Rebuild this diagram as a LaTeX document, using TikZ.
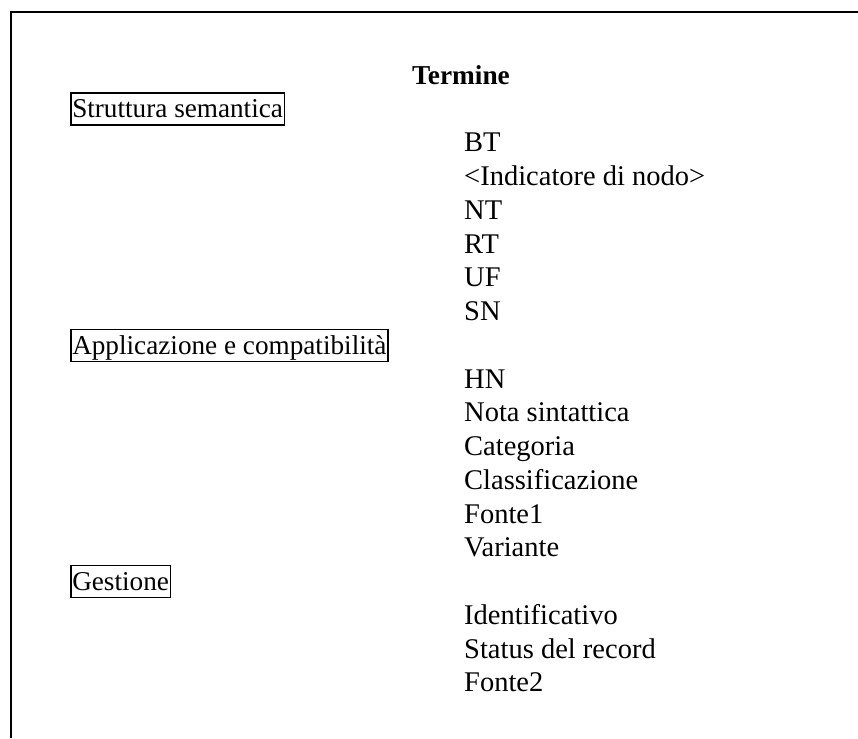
\documentclass[tikz,border=0pt]{standalone}
\usepackage{fontspec}
\setmainfont{Liberation Serif}
\usetikzlibrary{positioning}

\tikzset{
  entry/.style={anchor=base west, inner sep=0pt, font=\fontsize{28.5pt}{33.75pt}\selectfont},
  group/.style={draw, line width=1.5pt, anchor=base west, inner xsep=1.5pt, inner ysep=1pt,
    text height=24pt, text depth=6pt, font=\fontsize{27.2pt}{33.75pt}\selectfont},
  frame/.style={line width=2pt}
}

\begin{document}
\begin{tikzpicture}[x=1pt, y=-1pt]
        \useasboundingbox (0, 0) rectangle (858, 738);
        \draw[frame] (11, 738) -- (11, 12) -- (858, 12);

        \node[entry, font=\fontsize{27.3pt}{33.75pt}\selectfont\bfseries] at (412, 84.25)(termine){Termine};

        \node[group] at (70, 118)(struttura){Struttura semantica};
        \node[entry] at (464, 151.75)(bt){BT};
        \node[entry] at (464, 185.5)(indicatore){<Indicatore di nodo>};
        \node[entry] at (464, 219.25)(nt){NT};
        \node[entry] at (464, 253)(rt){RT};
        \node[entry] at (464, 286.75)(uf){UF};
        \node[entry] at (464, 320.5)(sn){SN};

        \node[group] at (70, 354.25)(applicazione){Applicazione e compatibilità};
        \node[entry] at (464, 388)(hn){HN};
        \node[entry] at (464, 421.75)(nota){Nota sintattica};
        \node[entry] at (464, 455.5)(categoria){Categoria};
        \node[entry] at (464, 489.25)(classificazione){Classificazione};
        \node[entry] at (464, 523)(fonte1){Fonte1};
        \node[entry] at (464, 556.75)(variante){Variante};

        \node[group] at (70, 590.5)(gestione){Gestione};
        \node[entry] at (464, 624.25)(identificativo){Identificativo};
        \node[entry] at (464, 658)(status){Status del record};
        \node[entry] at (464, 691.75)(fonte2){Fonte2};
    \end{tikzpicture}
\end{document}
